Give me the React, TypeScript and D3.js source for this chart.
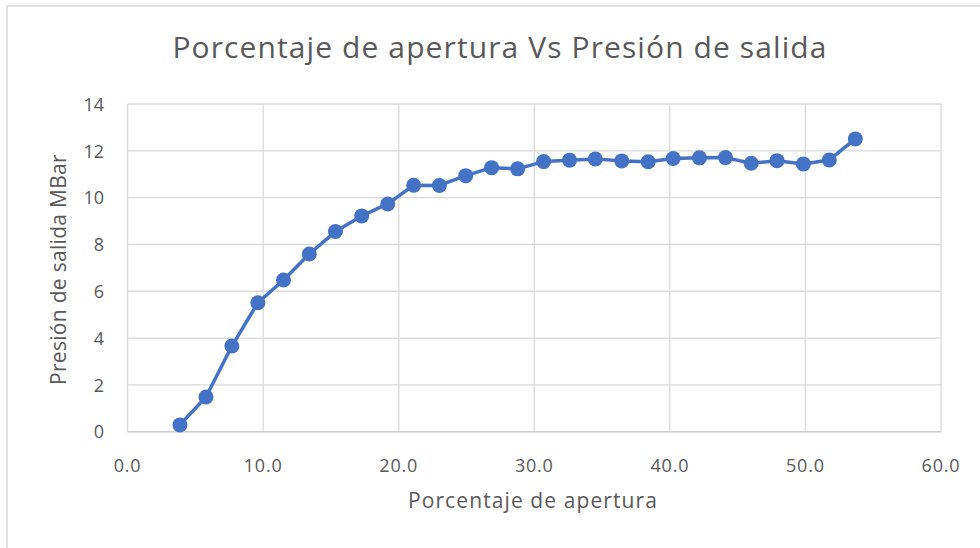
import React from "react";
import * as d3 from "d3";

const apertura = [
  3.86, 5.78, 7.69, 9.61, 11.5, 13.4, 15.33, 17.27, 19.19, 21.1,
  23.0, 24.94, 26.85, 28.77, 30.69, 32.6, 34.5, 36.45, 38.4, 40.25,
  42.18, 44.1, 46.0, 47.9, 49.85, 51.76, 53.68,
];
const presion = [
  0.29, 1.48, 3.66, 5.51, 6.48, 7.59, 8.55, 9.22, 9.73, 10.53,
  10.52, 10.94, 11.28, 11.23, 11.54, 11.6, 11.65, 11.57, 11.53, 11.67,
  11.7, 11.71, 11.47, 11.58, 11.44, 11.61, 12.51,
];
const xTicks = [0, 10, 20, 30, 40, 50, 60];
const yTicks = [0, 2, 4, 6, 8, 10, 12, 14];

const title = "Porcentaje de apertura Vs Presión de salida";
const xTitle = "Porcentaje de apertura";
const yTitle = "Presión de salida MBar";

export default function App() {
  const W = 980;
  const H = 548;
  const left = 127.6;
  const right = 941;
  const top = 104;
  const bottom = 431.7;
  const x = d3.scaleLinear().domain([0, 60]).range([left, right]);
  const y = d3.scaleLinear().domain([0, 14]).range([bottom, top]);
  const pts = apertura.map((a, i) => [a, presion[i]] as [number, number]);
  const line = d3
    .line<[number, number]>()
    .x((d) => x(d[0]))
    .y((d) => y(d[1]));
  const font = "'Open Sans', sans-serif";
  const textColor = "#595959";
  const grid = "#d9d9d9";
  return (
    <svg
      width={W}
      height={H}
      style={{ position: "absolute", left: 0, top: 0, background: "#fff" }}
      fontFamily={font}
    >
      <rect x={0} y={0} width={W} height={H} fill="#fff" />
      <rect x={7} y={6} width={W + 20} height={H + 20} fill="#fff" stroke="#d9d9d9" strokeWidth={1.5} />
      <text x={500} y={57.5} textAnchor="middle" fontSize={30} letterSpacing={1.1} fill={textColor}>
        {title}
      </text>
      {yTicks.map((t) => (
        <line key={"gy" + t} x1={left} x2={right} y1={y(t)} y2={y(t)} stroke={grid} strokeWidth={1.3} />
      ))}
      {xTicks.map((t) => (
        <line key={"gx" + t} x1={x(t)} x2={x(t)} y1={top} y2={bottom} stroke={grid} strokeWidth={1.3} />
      ))}
      <line x1={left} x2={right} y1={bottom} y2={bottom} stroke="#d0d0d0" strokeWidth={1.5} />
      {yTicks.map((t) => (
        <text key={"ly" + t} x={104} y={y(t) + 6.7} textAnchor="end" fontSize={18} fill={textColor}>
          {t}
        </text>
      ))}
      {xTicks.map((t) => (
        <text key={"lx" + t} x={x(t)} y={472.3} textAnchor="middle" fontSize={18} letterSpacing={0.8} fill={textColor}>
          {t.toFixed(1)}
        </text>
      ))}
      <text x={533} y={508.3} textAnchor="middle" fontSize={21} letterSpacing={1.1} fill={textColor}>
        {xTitle}
      </text>
      <text
        transform={`translate(66,${269.5}) rotate(-90)`}
        textAnchor="middle"
        fontSize={21}
        letterSpacing={0.3}
        fill={textColor}
      >
        {yTitle}
      </text>
      <path d={line(pts) || ""} fill="none" stroke="#4472C4" strokeWidth={3.5} strokeLinejoin="round" />
      {pts.map((d, i) => (
        <circle key={i} cx={x(d[0])} cy={y(d[1])} r={7.5} fill="#4472C4" />
      ))}
    </svg>
  );
}
